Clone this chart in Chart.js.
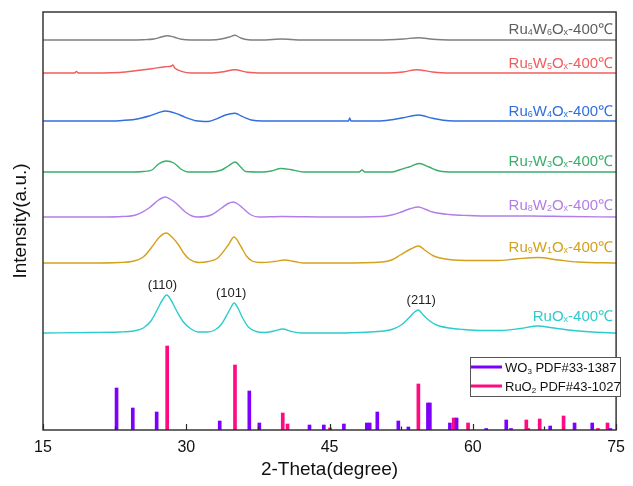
<!DOCTYPE html>
<html><head><meta charset="utf-8">
<script src="https://cdn.jsdelivr.net/npm/chart.js@4/dist/chart.umd.min.js"></script>
<style>html,body{margin:0;padding:0;background:#fff}#wrap{width:633px;height:486px}</style>
</head><body><div id="wrap"><canvas id="c" width="633" height="486"></canvas></div>
<script>
// XRD patterns of RuxWyOx samples annealed at 400 °C, stacked with vertical offsets.
// Each profile: [2-theta (deg), intensity above its own baseline (a.u.)]
const seriesNames = ['Ru4W6Ox-400℃', 'Ru5W5Ox-400℃', 'Ru6W4Ox-400℃', 'Ru7W3Ox-400℃', 'Ru8W2Ox-400℃', 'Ru9W1Ox-400℃', 'RuOx-400℃'];
const seriesOffsets = [390, 357, 309, 258, 213, 167, 97];

const ru4w6 = [[15,0],[24,0],[25.5,0.3],[26.6,1],[27.4,3],[28.0,4.3],[28.7,3],[29.5,0.7],[30.5,0],[32.5,0],[33.8,1.2],[34.5,3],[35.1,4.7],[35.7,2],[36.5,0.3],[38,0],[39,0.5],[40,1],[41,0.5],[42,0],[50,0],[52.7,1],[54.3,2.3],[55.8,0.7],[57.5,0],[75,0]];
const ru5w5 = [[15,0],[18.3,0],[18.5,1.5],[18.7,0],[23,0.5],[25.1,2.7],[26.4,4.3],[27.8,6.3],[28.4,6.8],[28.6,8],[28.8,5],[29.5,1.7],[30.5,0],[32.5,0],[33.7,1],[35.1,3.3],[36.4,0.7],[38,0],[51,0],[52.7,1],[54.1,3.3],[55.8,1],[57.5,0],[75,0]];
const ru6w4 = [[15,0],[21,0],[23,0.3],[24.7,1.7],[26.1,5],[27.1,8.3],[27.8,10],[28.9,7.7],[29.9,3.7],[31,0.3],[32.3,-0.5],[33.3,2.7],[34.1,6],[35.1,7.7],[35.9,4.3],[36.8,1],[38,0],[47,0],[47.1,3],[47.25,0],[50,0],[51.3,1],[52.7,3.3],[54.3,6],[55.8,2.7],[57.5,0.3],[60,0],[75,0]];
const ru7w3 = [[15,0],[21,0],[24,0],[25.5,0.5],[26.4,2],[27.1,8],[27.9,11],[28.7,9],[29.5,2.5],[30.2,0],[32.5,0],[33.7,2],[34.4,6],[35.1,10],[35.7,5],[36.2,0.5],[38,0],[38.9,1],[39.9,3.5],[40.9,2.5],[42.3,0],[48.1,0],[48.4,2],[48.7,0],[51.5,0],[52.3,2],[53.3,5],[54.4,8.5],[55.4,5],[56.5,1],[58,0],[75,0]];
const ru8w2 = [[15,0],[21,0],[23.3,0.5],[24.7,2],[26.1,9],[27.1,17],[27.8,20],[28.3,18],[28.9,14],[29.9,5],[30.6,1],[31.2,0],[32.6,2],[33.7,9],[34.4,13.5],[34.9,15],[35.4,13],[35.9,9],[36.8,2],[37.6,0],[40,0.5],[45,0],[50.5,0.5],[51.5,2],[52.5,5],[53.5,8.5],[54.3,10],[55.1,7.5],[55.8,5],[57.5,2.5],[59.5,1.5],[62,1],[66,1],[70,0.5],[75,0]];
const ru9w1 = [[15,0],[20,0],[23,0.5],[24.5,2],[25.5,6],[26.4,16],[27.2,26],[27.9,30],[28.5,26],[29.2,18],[29.8,9],[30.3,4],[31.3,0.5],[32.3,1.5],[33.3,5],[34.4,18],[35.0,26],[35.7,17],[36.3,7],[36.9,2],[37.8,0.5],[39.2,1.5],[40.3,3],[41.3,1.5],[42.3,0],[46,0],[50.5,1],[51.5,3],[52.4,8],[53.5,14],[54.3,17],[55.1,12],[55.9,7],[57.5,3.5],[60,2.5],[62.5,2.5],[64.5,4],[66.8,5.5],[69,3],[71,1],[75,0]];
const ruOx = [[15,0],[20,0.5],[23,1],[24.5,2],[25.5,5],[26.3,12],[27,24],[27.5,33],[27.95,38],[28.4,33],[29,22],[29.7,11],[30.5,4],[31.3,1],[32.2,1],[33,3],[33.7,9],[34.3,19],[34.7,26],[35.0,30],[35.4,25],[35.9,15],[36.5,6],[37.3,1.5],[38.2,0.5],[39.2,2],[40.1,4],[41,1.5],[42,0],[45,0],[48,0.5],[50,1.5],[51.5,3.5],[52.5,8],[53.3,15],[53.9,21],[54.3,23],[54.8,18],[55.5,12],[56.2,8],[57.5,5],[59,3.5],[61,2.5],[63,2.5],[65,4.5],[66.8,7],[68.5,5],[70.5,2.5],[72.5,1],[75,0]];
const seriesProfiles = [ru4w6, ru5w5, ru6w4, ru7w3, ru8w2, ru9w1, ruOx];

// Reference stick patterns: [2-theta, relative intensity]
const wo3Sticks = [[22.7,42],[24.4,22],[26.9,18],[33.5,9],[36.6,39],[37.65,7],[42.9,5],[44.4,5],[46.5,6],[48.9,7],[49.2,7],[50.0,18],[52.2,9],[53.25,3],[55.3,27],[55.5,27],[57.6,7],[58.3,12],[61.4,1.5],[63.5,10],[64.0,1.5],[68.1,4],[70.65,7],[72.5,7],[74.4,1.5]];
const ruo2Sticks = [[28.0,84],[35.1,65],[40.1,17],[40.6,6],[45.05,2],[54.3,46],[58.0,12],[59.5,7],[65.6,10],[65.8,1.5],[67.0,11],[69.5,14],[73.1,1.5],[74.1,7]];
const stickLabels = ['WO3 PDF#33-1387', 'RuO2 PDF#43-1027'];

// Miller indices marked above the RuOx peaks: [label, 2-theta, intensity]
const millerLabels = ['(110)', '(101)', '(211)'];
const millerTheta = [27.5, 34.7, 54.6];
const millerLevel = [38, 30, 23];

const xTicks = [15, 30, 45, 60, 75];

const lineColors = ['#7f7f7f', '#f25c5c', '#2f6fdf', '#3aae6a', '#b27de8', '#d4a11c', '#2ccccc'];
const nameColors = ['#5e5e5e', '#f25c5c', '#2f6fdf', '#3aae6a', '#b27de8', '#d4a11c', '#2ccccc'];
const stickColors = ['#7d00ff', '#ff0a80'];
const FONT = '"Liberation Sans", Arial, Helvetica, sans-serif';

const datasets = seriesProfiles.map((prof, i) => ({
  type: 'line',
  label: seriesNames[i],
  data: prof.map(([x, y]) => ({x, y: y + seriesOffsets[i]})),
  borderColor: lineColors[i],
  borderWidth: 1.4,
  pointRadius: 0,
  cubicInterpolationMode: 'monotone',
  fill: false
}));
[wo3Sticks, ruo2Sticks].forEach((sticks, i) => {
  datasets.push({
    type: 'bar',
    label: stickLabels[i],
    data: sticks.map(([x, y]) => ({x, y})),
    backgroundColor: stickColors[i],
    borderWidth: 0,
    barThickness: 3,
    grouped: false
  });
});

// split a name like "Ru4W6Ox-400℃" into normal and subscript runs
function richParts(name) {
  let cut = name.search(/[- ]/);
  if (cut < 0) cut = name.length;
  const formula = name.slice(0, cut), rest = name.slice(cut);
  const parts = [];
  for (const ch of formula) {
    const sub = /[0-9x]/.test(ch);
    if (parts.length && parts[parts.length - 1][1] === sub) parts[parts.length - 1][0] += ch;
    else parts.push([ch, sub]);
  }
  if (rest) parts.push([rest, false]);
  return parts;
}
function drawRich(ctx, name, x, baseY, size, align, color) {
  const parts = richParts(name);
  const small = Math.round(size * 0.62);
  const widths = parts.map(([t, s]) => { ctx.font = (s ? small : size) + 'px ' + FONT; return ctx.measureText(t).width; });
  const total = widths.reduce((a, b) => a + b, 0);
  let cx = align === 'right' ? x - total : x;
  ctx.fillStyle = color;
  ctx.textAlign = 'left';
  ctx.textBaseline = 'alphabetic';
  parts.forEach(([t, s], i) => {
    ctx.font = (s ? small : size) + 'px ' + FONT;
    ctx.fillText(t, cx, s ? baseY + size * 0.12 : baseY);
    cx += widths[i];
  });
}

const decor = {
  id: 'decor',
  afterDraw(chart) {
    const {ctx, chartArea: a, scales: {x, y}} = chart;
    ctx.save();
    // frame
    ctx.strokeStyle = '#2a2a2a';
    ctx.lineWidth = 1.4;
    ctx.strokeRect(a.left, a.top, a.right - a.left, a.bottom - a.top);
    // inward ticks on the bottom axis
    ctx.lineWidth = 1.2;
    for (let v = 15; v <= 75; v += 7.5) {
      const px = Math.round(x.getPixelForValue(v)) + 0.5;
      const len = (v - 15) % 15 === 0 ? 6 : 3.5;
      ctx.beginPath();
      ctx.moveTo(px, a.bottom);
      ctx.lineTo(px, a.bottom - len);
      ctx.stroke();
    }
    // sample names at the right end of each trace
    const lift = [12, 11, 11, 12, 13, 17, 18];
    seriesNames.forEach((n, i) => {
      const cy = y.getPixelForValue(seriesOffsets[i]) - lift[i];
      drawRich(ctx, n, a.right - 3, cy + 5.5, 15, 'right', nameColors[i]);
    });
    // Miller indices
    ctx.fillStyle = '#222';
    ctx.font = '13px ' + FONT;
    ctx.textAlign = 'center';
    ctx.textBaseline = 'middle';
    const ruOxBase = seriesOffsets[seriesOffsets.length - 1];
    millerLabels.forEach((t, i) => {
      ctx.fillText(t, x.getPixelForValue(millerTheta[i]), y.getPixelForValue(ruOxBase + millerLevel[i]) - 10);
    });
    // legend for the stick patterns
    const bx = 470, by = 357, bw = 150, bh = 39;
    ctx.fillStyle = '#fff';
    ctx.fillRect(bx, by, bw, bh);
    ctx.strokeStyle = '#555';
    ctx.lineWidth = 1;
    ctx.strokeRect(bx + 0.5, by + 0.5, bw, bh);
    stickLabels.forEach((t, i) => {
      const ly = by + 10 + i * 19;
      ctx.strokeStyle = stickColors[i];
      ctx.lineWidth = 3;
      ctx.beginPath();
      ctx.moveTo(bx + 1, ly);
      ctx.lineTo(bx + 32, ly);
      ctx.stroke();
      drawRich(ctx, t, bx + 35, ly + 5, 13, 'left', '#111');
    });
    ctx.restore();
  }
};

new Chart(document.getElementById('c'), {
  type: 'line',
  data: {datasets},
  options: {
    responsive: false,
    animation: false,
    devicePixelRatio: 1,
    layout: {padding: {top: 12, right: 11, left: 0, bottom: 0}},
    plugins: {legend: {display: false}, tooltip: {enabled: false}},
    scales: {
      x: {
        type: 'linear',
        min: 15, max: 75,
        offset: false,
        afterBuildTicks(scale) { scale.ticks = xTicks.map(v => ({value: v})); },
        afterFit(scale) { scale.height = 56; },
        grid: {display: false, drawTicks: false},
        border: {display: false},
        ticks: {color: '#111', font: {size: 16, family: FONT}, padding: 8, maxRotation: 0},
        title: {display: true, text: '2-Theta(degree)', color: '#111', font: {size: 19, family: FONT}, padding: {top: 0, bottom: 5}}
      },
      y: {
        min: 0, max: 418,
        afterFit(scale) { scale.width = 43; },
        grid: {display: false, drawTicks: false},
        border: {display: false},
        ticks: {display: false},
        title: {display: true, text: 'Intensity(a.u.)', color: '#111', font: {size: 19, family: FONT}, padding: {top: 9, bottom: 0}}
      }
    }
  },
  plugins: [decor]
});
</script></body></html>
